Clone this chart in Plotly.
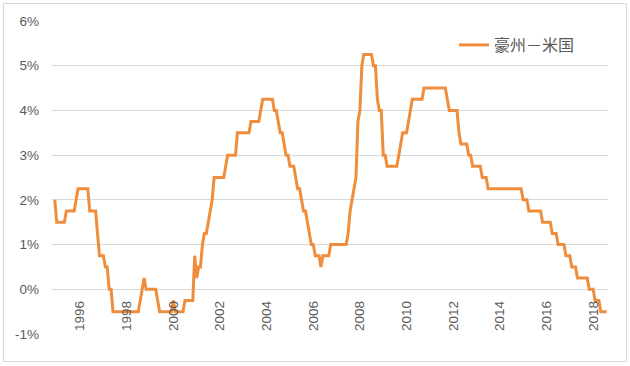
import pandas as pd
import plotly.graph_objects as go

# Monthly spread (AU cash rate minus US policy rate, %), starting Dec 1994
start_month = "1994-12-01"
y1994 = [2.0]
y1995 = [1.5, 1.5, 1.5, 1.5, 1.5, 1.75, 1.75, 1.75, 1.75, 1.75, 2.0, 2.25]
y1996 = [2.25, 2.25, 2.25, 2.25, 2.25, 1.75, 1.75, 1.75, 1.75, 1.25, 0.75, 0.75]
y1997 = [0.75, 0.5, 0.5, 0.0, 0.0, -0.5, -0.5, -0.5, -0.5, -0.5, -0.5, -0.5]
y1998 = [-0.5, -0.5, -0.5, -0.5, -0.5, -0.5, -0.5, -0.25, 0.0, 0.25, 0.0, 0.0]
y1999 = [0.0, 0.0, 0.0, 0.0, -0.25, -0.5, -0.5, -0.5, -0.5, -0.5, -0.5, -0.5]
y2000 = [-0.25, -0.5, -0.5, -0.5, -0.5, -0.5, -0.25, -0.25, -0.25, -0.25, -0.25, 0.75]
y2001 = [0.25, 0.5, 0.5, 1.0, 1.25, 1.25, 1.5, 1.75, 2.0, 2.5, 2.5, 2.5]
y2002 = [2.5, 2.5, 2.5, 2.75, 3.0, 3.0, 3.0, 3.0, 3.0, 3.5, 3.5, 3.5]
y2003 = [3.5, 3.5, 3.5, 3.5, 3.75, 3.75, 3.75, 3.75, 3.75, 4.0, 4.25, 4.25]
y2004 = [4.25, 4.25, 4.25, 4.25, 4.0, 4.0, 3.75, 3.5, 3.5, 3.25, 3.0, 3.0]
y2005 = [2.75, 2.75, 2.75, 2.5, 2.25, 2.25, 2.0, 1.75, 1.75, 1.5, 1.25, 1.0]
y2006 = [1.0, 0.75, 0.75, 0.75, 0.5, 0.75, 0.75, 0.75, 0.75, 1.0, 1.0, 1.0]
y2007 = [1.0, 1.0, 1.0, 1.0, 1.0, 1.0, 1.25, 1.75, 2.0, 2.25, 2.5, 3.75]
y2008 = [4.0, 5.0, 5.25, 5.25, 5.25, 5.25, 5.25, 5.0, 5.0, 4.25, 4.0, 4.0]
y2009 = [3.0, 3.0, 2.75, 2.75, 2.75, 2.75, 2.75, 2.75, 3.0, 3.25, 3.5, 3.5]
y2010 = [3.5, 3.75, 4.0, 4.25, 4.25, 4.25, 4.25, 4.25, 4.25, 4.5, 4.5, 4.5]
y2011 = [4.5, 4.5, 4.5, 4.5, 4.5, 4.5, 4.5, 4.5, 4.5, 4.25, 4.0, 4.0]
y2012 = [4.0, 4.0, 4.0, 3.5, 3.25, 3.25, 3.25, 3.25, 3.0, 3.0, 2.75, 2.75]
y2013 = [2.75, 2.75, 2.75, 2.5, 2.5, 2.5, 2.25, 2.25, 2.25, 2.25, 2.25, 2.25]
y2014 = [2.25, 2.25, 2.25, 2.25, 2.25, 2.25, 2.25, 2.25, 2.25, 2.25, 2.25, 2.25]
y2015 = [2.0, 2.0, 2.0, 1.75, 1.75, 1.75, 1.75, 1.75, 1.75, 1.75, 1.5, 1.5]
y2016 = [1.5, 1.5, 1.5, 1.25, 1.25, 1.25, 1.0, 1.0, 1.0, 1.0, 0.75, 0.75]
y2017 = [0.75, 0.5, 0.5, 0.5, 0.25, 0.25, 0.25, 0.25, 0.25, 0.25, 0.0, 0.0]
y2018 = [0.0, -0.25, -0.25, -0.25, -0.5, -0.5, -0.5, -0.5]

series_name = "豪州－米国"
x_tick_years = ["1996", "1998", "2000", "2002", "2004", "2006", "2008",
                "2010", "2012", "2014", "2016", "2018"]
y_tick_vals = [-1, 0, 1, 2, 3, 4, 5, 6]
y_tick_text = ["-1%", "0%", "1%", "2%", "3%", "4%", "5%", "6%"]

spread = (y1994 + y1995 + y1996 + y1997 + y1998 + y1999 + y2000 + y2001 + y2002
          + y2003 + y2004 + y2005 + y2006 + y2007 + y2008 + y2009 + y2010
          + y2011 + y2012 + y2013 + y2014 + y2015 + y2016 + y2017 + y2018)
months = pd.date_range(start_month, periods=len(spread), freq="MS")

LINE = "#EF8D3C"
GRAY_TXT = "#595959"
GRID = "#D9D9D9"
FONT = "Liberation Sans, Arial, sans-serif"

fig = go.Figure()
fig.add_trace(go.Scatter(
    x=months, y=spread, mode="lines", name=series_name,
    line=dict(color=LINE, width=3),
))

L, R, T, B = 52, 22, 21, 32
W, H = 630, 366
pw, ph = W - L - R, H - T - B

fig.update_layout(
    template="none",
    width=W, height=H,
    margin=dict(l=L, r=R, t=T, b=B, pad=0),
    paper_bgcolor="white", plot_bgcolor="white",
    showlegend=True,
    legend=dict(
        x=(454 - L) / pw, y=(334 - 45) / ph, xanchor="left", yanchor="middle",
        font=dict(family="Noto Sans CJK JP", size=16, color=GRAY_TXT),
        bgcolor="rgba(0,0,0,0)", borderwidth=0,
    ),
    xaxis=dict(
        type="date",
        range=["1994-10-19", "2018-08-22"],
        tickvals=[f"{y}-01-01" for y in x_tick_years],
        ticktext=x_tick_years,
        tickangle=-90,
        anchor="free", position=1 / 7,
        showgrid=False, showline=False, zeroline=False,
        ticks="", ticklabelstandoff=8,
        tickfont=dict(family=FONT, size=13.5, color=GRAY_TXT),
        automargin=False,
    ),
    yaxis=dict(
        range=[-1, 6],
        tickvals=y_tick_vals, ticktext=y_tick_text,
        showgrid=True, gridcolor=GRID, gridwidth=1,
        zeroline=False, showline=False, ticks="",
        ticklabelstandoff=12,
        tickfont=dict(family=FONT, size=13.5, color=GRAY_TXT),
        automargin=False,
    ),
    shapes=[dict(
        type="rect", xref="paper", yref="paper",
        x0=(3.5 - L) / pw, x1=(626.5 - L) / pw,
        y0=(H - B - 361.5) / ph, y1=(H - B - 3.5) / ph,
        line=dict(color=GRID, width=1), fillcolor="rgba(0,0,0,0)", layer="below",
    )],
)

fig.write_html(
    "out.html",
    config={"displayModeBar": False, "staticPlot": True},
    post_script="document.body.style.margin='0px';document.body.style.overflow='hidden';",
)
